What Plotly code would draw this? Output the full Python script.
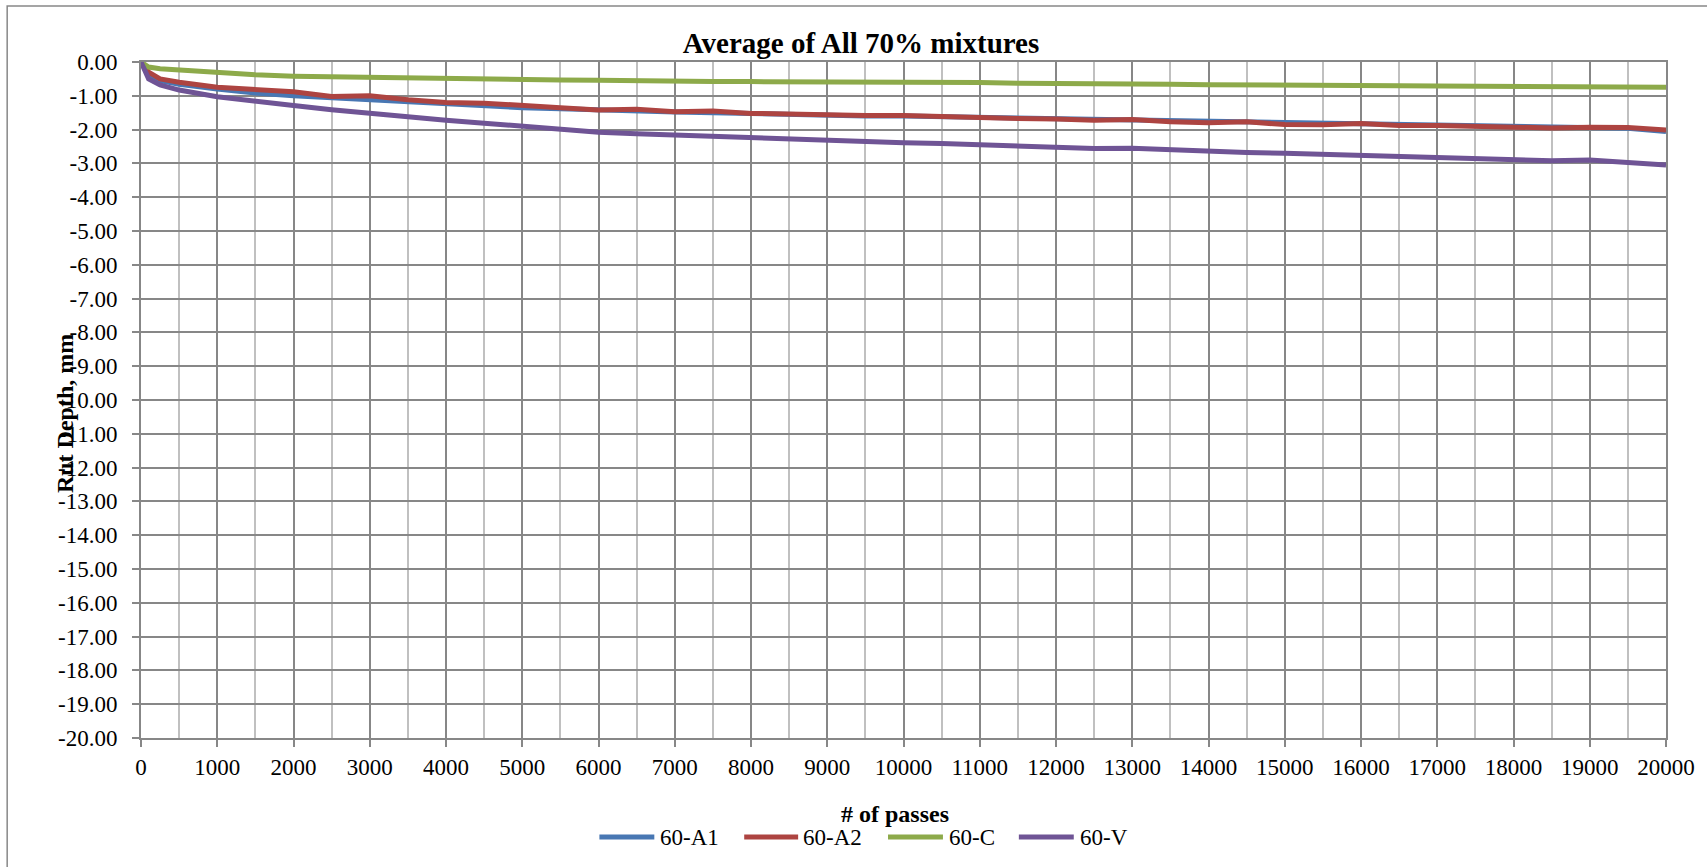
import plotly.graph_objects as go

passes = [0, 100, 250, 500, 1000, 1500, 2000, 2500, 3000, 3500, 4000, 4500, 5000,
          5500, 6000, 6500, 7000, 7500, 8000, 8500, 9000, 9500, 10000,
          10500, 11000, 11500, 12000, 12500, 13000, 13500, 14000, 14500, 15000,
          15500, 16000, 16500, 17000, 17500, 18000, 18500, 19000, 19500, 20000]

a1 = [0, -0.35, -0.55, -0.66, -0.80, -0.92, -1.00, -1.06, -1.12, -1.17, -1.24, -1.30, -1.35,
      -1.38, -1.42, -1.45, -1.48, -1.50, -1.53, -1.56, -1.57, -1.60, -1.60,
      -1.62, -1.64, -1.66, -1.68, -1.70, -1.71, -1.73, -1.75, -1.76, -1.78,
      -1.80, -1.82, -1.84, -1.86, -1.88, -1.90, -1.92, -1.94, -1.96, -2.06]
a2 = [0, -0.30, -0.50, -0.60, -0.75, -0.83, -0.88, -1.02, -1.00, -1.12, -1.20, -1.22, -1.30,
      -1.35, -1.42, -1.40, -1.47, -1.45, -1.52, -1.55, -1.55, -1.58, -1.58,
      -1.62, -1.65, -1.67, -1.69, -1.72, -1.70, -1.77, -1.80, -1.77, -1.85,
      -1.86, -1.82, -1.88, -1.88, -1.90, -1.91, -1.95, -1.93, -1.94, -2.01]
c = [0, -0.15, -0.20, -0.24, -0.31, -0.38, -0.42, -0.44, -0.46, -0.48, -0.50, -0.50, -0.53,
     -0.53, -0.54, -0.56, -0.56, -0.58, -0.58, -0.58, -0.60, -0.60, -0.60,
     -0.60, -0.61, -0.63, -0.63, -0.65, -0.65, -0.66, -0.67, -0.67, -0.68,
     -0.68, -0.70, -0.70, -0.71, -0.72, -0.73, -0.73, -0.73, -0.74, -0.75]
v = [0, -0.50, -0.68, -0.83, -1.03, -1.17, -1.29, -1.41, -1.52, -1.62, -1.72, -1.81, -1.90,
     -2.00, -2.08, -2.12, -2.16, -2.21, -2.26, -2.30, -2.32, -2.37, -2.39,
     -2.41, -2.45, -2.48, -2.50, -2.56, -2.55, -2.60, -2.63, -2.68, -2.70,
     -2.73, -2.75, -2.77, -2.80, -2.85, -2.87, -2.92, -2.90, -2.99, -3.05]

names = ["60-A1", "60-A2", "60-C", "60-V"]
series = [a1, a2, c, v]
colors = ["#4877B3", "#AD4441", "#8DAA4A", "#6F5495"]

x_ticks = list(range(0, 20001, 1000))
y_ticks = list(range(0, -21, -1))
y_ticktext = ["%.2f" % t if t == 0 else "-%.2f" % abs(t) for t in y_ticks]

FONT = "Liberation Serif, Times New Roman, serif"

# plot-area pixel geometry (for paper-coordinate placement of decorations)
L, R, T, B = 141, 1668, 62, 738
W, H = R - L, B - T


def px(xp):
    return (xp - L) / W


def py(yp):
    return (B - yp) / H


fig = go.Figure()
for n, s, col in zip(names, series, colors):
    fig.add_trace(go.Scatter(x=passes, y=s, name=n, mode="lines",
                             line=dict(color=col, width=5), showlegend=False))

# legend (drawn as line samples + labels, Excel-style long samples)
leg_y = 837
leg_segments = [(600, 655, 659), (745, 799, 802), (889, 944, 948), (1020, 1075, 1079)]
shapes = [dict(type="rect", xref="paper", yref="paper",
               x0=px(7), x1=1.2, y0=-0.4, y1=py(6),
               line=dict(color="#888888", width=1.5), layer="below")]
annotations = [
    dict(text="<b>Rut Depth, mm</b>", textangle=-90, xref="paper", yref="paper",
         x=px(65), y=py(414), xanchor="center", yanchor="middle",
         showarrow=False, font=dict(size=24, family=FONT)),
    dict(text="<b># of passes</b>", xref="paper", yref="paper",
         x=px(896), y=py(814), xanchor="center", yanchor="middle",
         showarrow=False, font=dict(size=24, family=FONT)),
]
for (x0, x1, xt), n, col in zip(leg_segments, names, colors):
    shapes.append(dict(type="line", xref="paper", yref="paper",
                       x0=px(x0), x1=px(x1), y0=py(leg_y), y1=py(leg_y),
                       line=dict(color=col, width=5)))
    annotations.append(dict(text=n, xref="paper", yref="paper", x=px(xt), y=py(leg_y),
                            xanchor="left", yanchor="middle", showarrow=False,
                            font=dict(size=23, family=FONT)))

fig.update_layout(
    width=1707, height=867,
    margin=dict(l=L, r=1707 - R, t=T, b=867 - B),
    paper_bgcolor="white", plot_bgcolor="white",
    font=dict(family=FONT, size=23, color="black"),
    title=dict(text="<b>Average of All 70% mixtures</b>", x=(861 / 1707), xanchor="center",
               y=1 - 43 / 867, yanchor="middle", font=dict(size=29, family=FONT)),
    showlegend=False,
    xaxis=dict(range=[0, 20000], tickvals=x_ticks, ticktext=[str(t) for t in x_ticks],
               showgrid=True, gridcolor="#878787", gridwidth=1.6,
               minor=dict(dtick=500, tick0=0, showgrid=True, gridcolor="#C0C0C0", gridwidth=1.6),
               showline=True, linecolor="#878787", linewidth=2, mirror=True,
               ticks="outside", ticklen=7, tickcolor="#878787", tickwidth=2,
               tickfont=dict(size=23, family=FONT), zeroline=False),
    yaxis=dict(range=[-20, 0], tickvals=y_ticks, ticktext=y_ticktext, showgrid=True,
               gridcolor="#878787", gridwidth=1.6,
               showline=True, linecolor="#878787", linewidth=2, mirror=True,
               ticks="outside", ticklen=7, tickcolor="#878787", tickwidth=2,
               tickfont=dict(size=23, family=FONT), zeroline=False,
               ticklabelstandoff=10),
    annotations=annotations,
    shapes=shapes,
)

fig.write_html("out.html")
